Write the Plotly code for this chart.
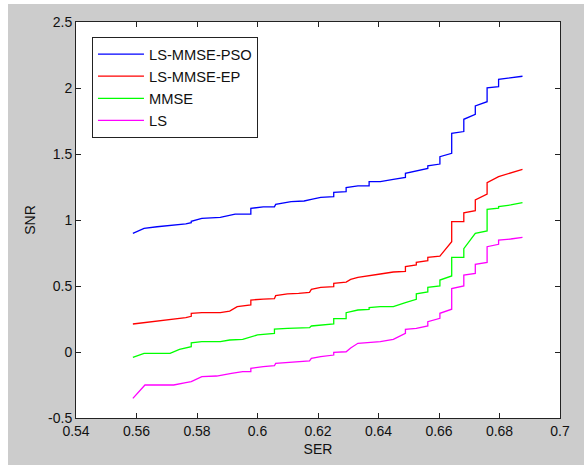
import plotly.graph_objects as go

# ---- data ----
pso_x = [0.5588, 0.5625, 0.5668, 0.5717, 0.5763, 0.5781, 0.5781, 0.5816, 0.5877, 0.5926, 0.5978, 0.5978,
         0.6019, 0.6056, 0.6060, 0.6111, 0.6154, 0.6178, 0.6209, 0.6252, 0.6252, 0.6293, 0.6293, 0.6332,
         0.6369, 0.6369, 0.6406, 0.6449, 0.6489, 0.6489, 0.6525, 0.6563, 0.6563, 0.6603, 0.6603, 0.6642,
         0.6642, 0.6682, 0.6682, 0.6720, 0.6720, 0.6759, 0.6759, 0.6797, 0.6797, 0.6837, 0.6876]
pso_y = [0.899, 0.937, 0.949, 0.960, 0.970, 0.980, 0.990, 1.013, 1.020, 1.045, 1.045, 1.088,
         1.100, 1.100, 1.118, 1.139, 1.144, 1.157, 1.172, 1.177, 1.210, 1.215, 1.245, 1.258,
         1.258, 1.290, 1.290, 1.308, 1.323, 1.354, 1.374, 1.391, 1.410, 1.424, 1.480, 1.505,
         1.657, 1.670, 1.763, 1.800, 1.864, 1.896, 2.002, 2.010, 2.066, 2.077, 2.089]

ep_x = [0.5588, 0.5643, 0.5693, 0.5730, 0.5763, 0.5781, 0.5781, 0.5816, 0.5877, 0.5908, 0.5933, 0.5978,
        0.5978, 0.6019, 0.6056, 0.6060, 0.6099, 0.6136, 0.6172, 0.6178, 0.6209, 0.6252, 0.6252, 0.6293,
        0.6308, 0.6332, 0.6369, 0.6406, 0.6449, 0.6489, 0.6489, 0.6525, 0.6525, 0.6563, 0.6563, 0.6603,
        0.6642, 0.6642, 0.6682, 0.6682, 0.6720, 0.6720, 0.6759, 0.6759, 0.6797, 0.6837, 0.6876]
ep_y = [0.212, 0.227, 0.242, 0.250, 0.260, 0.270, 0.293, 0.298, 0.298, 0.310, 0.343, 0.356,
        0.394, 0.401, 0.404, 0.427, 0.440, 0.444, 0.452, 0.475, 0.490, 0.495, 0.520, 0.530,
        0.550, 0.566, 0.581, 0.591, 0.606, 0.611, 0.647, 0.659, 0.680, 0.692, 0.717, 0.727,
        0.836, 0.987, 0.987, 1.055, 1.070, 1.152, 1.197, 1.283, 1.328, 1.354, 1.384]

mmse_x = [0.5588, 0.5625, 0.5668, 0.5711, 0.5742, 0.5781, 0.5781, 0.5816, 0.5877, 0.5908, 0.5951, 0.5978,
          0.6000, 0.6056, 0.6056, 0.6099, 0.6172, 0.6178, 0.6252, 0.6252, 0.6293, 0.6293, 0.6332, 0.6369,
          0.6369, 0.6406, 0.6449, 0.6489, 0.6525, 0.6525, 0.6563, 0.6563, 0.6603, 0.6603, 0.6642, 0.6642,
          0.6682, 0.6682, 0.6720, 0.6759, 0.6759, 0.6797, 0.6797, 0.6837, 0.6876]
mmse_y = [-0.040, -0.010, -0.010, -0.010, 0.020, 0.040, 0.070, 0.078, 0.078, 0.091, 0.096, 0.111,
          0.129, 0.141, 0.174, 0.179, 0.184, 0.197, 0.212, 0.253, 0.253, 0.298, 0.318, 0.323,
          0.336, 0.343, 0.343, 0.374, 0.399, 0.440, 0.455, 0.490, 0.500, 0.545, 0.576, 0.717,
          0.717, 0.783, 0.899, 0.917, 1.081, 1.090, 1.101, 1.114, 1.131]

ls_x = [0.5588, 0.5628, 0.5668, 0.5723, 0.5763, 0.5781, 0.5816, 0.5865, 0.5914, 0.5951, 0.5978, 0.5978,
        0.6019, 0.6056, 0.6060, 0.6099, 0.6136, 0.6172, 0.6178, 0.6209, 0.6252, 0.6252, 0.6293, 0.6308,
        0.6332, 0.6369, 0.6406, 0.6449, 0.6489, 0.6489, 0.6525, 0.6563, 0.6563, 0.6603, 0.6603, 0.6642,
        0.6642, 0.6682, 0.6682, 0.6720, 0.6720, 0.6759, 0.6759, 0.6797, 0.6797, 0.6837, 0.6876]
ls_y = [-0.351, -0.250, -0.250, -0.250, -0.232, -0.225, -0.187, -0.182, -0.162, -0.149, -0.149, -0.124,
        -0.111, -0.104, -0.086, -0.081, -0.073, -0.068, -0.048, -0.035, -0.023, -0.003, 0.002, 0.030,
        0.066, 0.071, 0.078, 0.096, 0.141, 0.172, 0.179, 0.197, 0.230, 0.255, 0.293, 0.324,
        0.480, 0.500, 0.583, 0.596, 0.664, 0.679, 0.798, 0.816, 0.848, 0.856, 0.869]

series_names = ["LS-MMSE-PSO", "LS-MMSE-EP", "MMSE", "LS"]
series_colors = ["#0000ff", "#ff0000", "#00ff00", "#ff00ff"]

x_tickvals = [0.54, 0.56, 0.58, 0.60, 0.62, 0.64, 0.66, 0.68, 0.70]
x_ticktext = ["0.54", "0.56", "0.58", "0.6", "0.62", "0.64", "0.66", "0.68", "0.7"]
y_tickvals = [-0.5, 0, 0.5, 1, 1.5, 2, 2.5]
y_ticktext = ["-0.5", "0", "0.5", "1", "1.5", "2", "2.5"]

FONT = "Liberation Sans, Arial, sans-serif"

fig = go.Figure()
for xs, ys, name, col in zip([pso_x, ep_x, mmse_x, ls_x], [pso_y, ep_y, mmse_y, ls_y],
                             series_names, series_colors):
    fig.add_trace(go.Scatter(x=xs, y=ys, mode="lines", name=name,
                             line=dict(color=col, width=1.3)))

axis_common = dict(
    showgrid=False, zeroline=False, showline=True, linecolor="#222222", linewidth=1,
    mirror="ticks", ticks="inside", ticklen=5, tickcolor="#222222", tickwidth=1,
    tickfont=dict(family=FONT, size=14, color="#111111"),
)

fig.update_xaxes(range=[0.54, 0.70], tickvals=x_tickvals, ticktext=x_ticktext,
                 title=dict(text="SER", font=dict(family=FONT, size=14, color="#111111"), standoff=6),
                 **axis_common)
fig.update_yaxes(range=[-0.5, 2.5], tickvals=y_tickvals, ticktext=y_ticktext,
                 title=dict(text="SNR", font=dict(family=FONT, size=14, color="#111111"), standoff=9),
                 **axis_common)

fig.update_layout(
    width=584, height=465,
    margin=dict(l=76, r=24, t=22, b=47, autoexpand=False),
    paper_bgcolor="#cccccc", plot_bgcolor="#ffffff",
    font=dict(family=FONT, size=14, color="#111111"),
    showlegend=True,
    legend=dict(x=0.033, y=0.962, xanchor="left", yanchor="top",
                bgcolor="#ffffff", bordercolor="#222222", borderwidth=1,
                font=dict(family=FONT, size=14.7, color="#111111"),
                tracegroupgap=0, itemwidth=46),
    shapes=[
        dict(type="rect", xref="paper", yref="paper", x0=-76/484, x1=508/484,
             y0=1 + 18/396, y1=1 + 22/396, fillcolor="#ffffff", line=dict(width=0), layer="above"),
        dict(type="rect", xref="paper", yref="paper", x0=-76/484, x1=-68/484,
             y0=-47/396, y1=1 + 22/396, fillcolor="#ffffff", line=dict(width=0), layer="above"),
    ],
)

fig.write_html("out.html")
